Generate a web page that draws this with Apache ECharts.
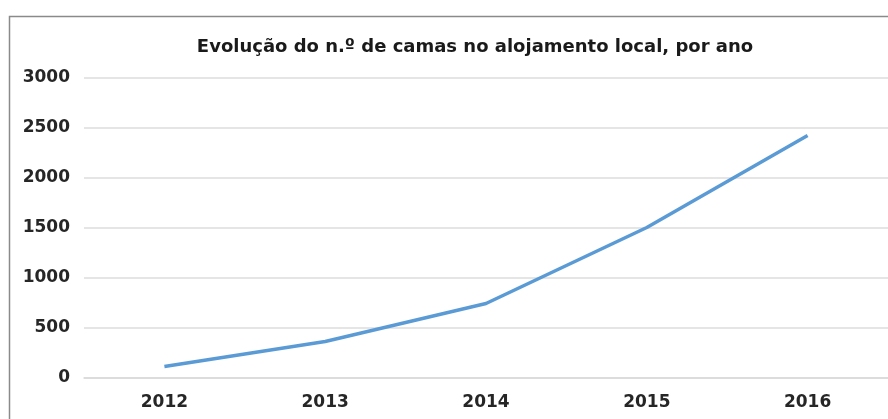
<!DOCTYPE html>
<html><head><meta charset="utf-8">
<script src="https://cdn.jsdelivr.net/npm/echarts@6/dist/echarts.min.js"></script>
<style>html,body{margin:0;padding:0;background:#fff}#c{width:888px;height:419px}</style>
</head><body><div id="c"></div>
<script>
const titleText = 'Evolução do n.º de camas no alojamento local, por ano';
const categories = ['2012', '2013', '2014', '2015', '2016'];
const camas = [115, 365, 745, 1505, 2425];
const yTicks = [0, 500, 1000, 1500, 2000, 2500, 3000];

const chart = echarts.init(document.getElementById('c'), null, {renderer: 'canvas'});
chart.setOption({
  animation: false,
  backgroundColor: '#fff',
  graphic: [{
    type: 'rect', left: 7, top: 14,
    shape: {width: 900, height: 420},
    style: {fill: 'none', stroke: '#8a8a8a', lineWidth: 1.5},
    silent: true
  }],
  title: {
    text: titleText, left: 470, top: 33, textAlign: 'center',
    textStyle: {fontFamily: 'DejaVu Sans', fontWeight: 'bold', fontSize: 18, color: '#1a1a1a'}
  },
  grid: {left: 84, top: 78, width: 809, height: 300, containLabel: false},
  xAxis: {
    type: 'category', data: categories, boundaryGap: true,
    axisLine: {show: true, lineStyle: {color: '#d9d9d9', width: 1.5}},
    axisTick: {show: false},
    axisLabel: {margin: 16, fontFamily: 'DejaVu Sans', fontWeight: 'bold', fontSize: 17, color: '#262626'}
  },
  yAxis: {
    type: 'value', min: yTicks[0], max: yTicks[yTicks.length - 1], interval: 500,
    axisLine: {show: false}, axisTick: {show: false},
    splitLine: {lineStyle: {color: '#dcdcdc', width: 1.5}},
    axisLabel: {margin: 14, formatter: v => String(v), fontFamily: 'DejaVu Sans', fontWeight: 'bold', fontSize: 17, color: '#262626'}
  },
  series: [{
    type: 'line', data: camas, symbol: 'none',
    lineStyle: {color: '#5b9bd5', width: 3.5}
  }]
});
</script></body></html>
